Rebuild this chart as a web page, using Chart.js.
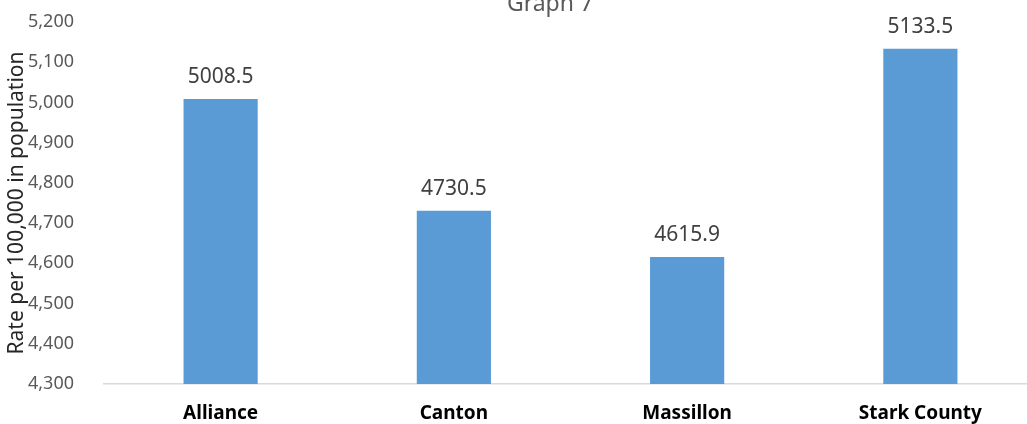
<!DOCTYPE html>
<html>
<head>
<meta charset="utf-8">
<script src="https://cdn.jsdelivr.net/npm/chart.js@4/dist/chart.umd.min.js"></script>
<style>
  html, body { margin: 0; padding: 0; overflow: hidden; background: #fff; }
  #wrap { position: absolute; left: 0; top: -14px; width: 1100px; height: 438px; }
</style>
</head>
<body>
<div id="wrap"><canvas id="myChart"></canvas></div>
<script>
// Graph 7 - rate per 100,000
const places = ['Alliance', 'Canton', 'Massillon', 'Stark County'];
const rates = [5008.5, 4730.5, 4615.9, 5133.5];
const rateLabels = ['5008.5', '4730.5', '4615.9', '5133.5'];

const fontName = '"Noto Sans", "Open Sans", sans-serif';

// value labels above each bar + title (title sits off-centre in the original)
const barLabels = {
    id: 'barLabels',
    afterDatasetsDraw(chart) {
        const c = chart.ctx;
        const meta = chart.getDatasetMeta(0);
        c.save();
        c.font = '21px ' + fontName;
        c.fillStyle = '#404040';
        c.textAlign = 'center';
        c.textBaseline = 'alphabetic';
        meta.data.forEach((bar, i) => {
            c.fillText(rateLabels[i], bar.x, bar.y - 16);
        });
        c.font = '23px ' + fontName;
        c.fillStyle = '#595959';
        c.fillText('Graph 7', 550, 25);
        c.restore();
    }
};

const ctx = document.getElementById('myChart');

new Chart(ctx, {
    type: 'bar',
    data: {
        labels: places,
        datasets: [{
            label: 'Rate',
            data: rates,
            backgroundColor: '#5b9bd5',
            borderWidth: 0,
            categoryPercentage: 1,
            barPercentage: 0.318
        }]
    },
    options: {
        responsive: true,
        maintainAspectRatio: false,
        animation: false,
        layout: { padding: { left: 0, right: 63, top: 36, bottom: 0 } },
        plugins: {
            legend: { display: false },
            tooltip: { enabled: false },
            title: { display: false }
        },
        scales: {
            x: {
                grid: { display: false },
                border: { display: true, color: '#d9d9d9', width: 1.5 },
                afterFit(scale) { scale.height = 40; },
                ticks: {
                    color: '#000',
                    padding: 10,
                    font: { family: fontName, size: 19, weight: 'bold' }
                }
            },
            y: {
                min: 4300,
                max: 5200,
                grid: { display: false },
                border: { display: false },
                afterFit(scale) { scale.width = 104; },
                title: {
                    display: true,
                    text: 'Rate per 100,000 in population',
                    color: '#262626',
                    font: { family: fontName, size: 21, weight: 'normal' },
                    padding: { top: 4, bottom: 0 }
                },
                ticks: {
                    stepSize: 100,
                    color: '#595959',
                    padding: 22,
                    font: { family: fontName, size: 18 },
                    callback: v => v.toLocaleString('en-US')
                }
            }
        }
    },
    plugins: [barLabels]
});
</script>
</body>
</html>
